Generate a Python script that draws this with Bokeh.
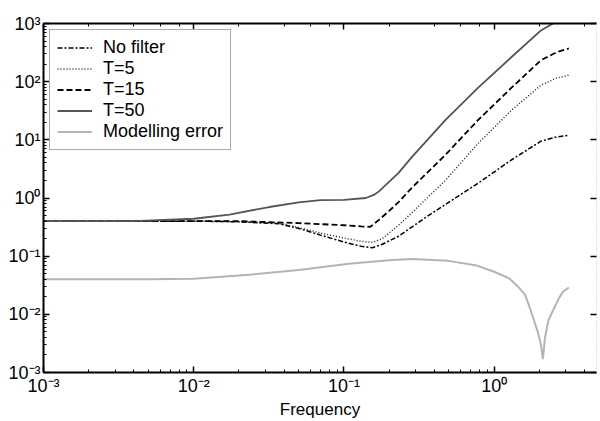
from bokeh.plotting import figure
from bokeh.models import LogAxis, CustomJSTickFormatter, Range1d, LogTicker
from bokeh.embed import file_html
from bokeh.resources import INLINE

# ---- data ----
f_nofilt = [0.001, 0.005, 0.01, 0.02, 0.037, 0.05, 0.07, 0.1, 0.13, 0.155, 0.18, 0.231, 0.365, 0.783, 1.30, 2.05, 2.6, 3.14]
y_nofilt = [0.40, 0.40, 0.40, 0.39, 0.36, 0.30, 0.23, 0.175, 0.148, 0.14, 0.16, 0.22, 0.50, 1.8, 4.5, 9.5, 11.2, 12.0]

f_t5 = [0.001, 0.005, 0.01, 0.02, 0.037, 0.05, 0.07, 0.1, 0.13, 0.155, 0.18, 0.231, 0.282, 0.365, 0.473, 0.783, 1.30, 2.05, 2.6, 3.14]
y_t5 = [0.40, 0.40, 0.40, 0.39, 0.37, 0.31, 0.25, 0.205, 0.18, 0.172, 0.20, 0.34, 0.55, 1.05, 2.0, 8.7, 32.0, 87.0, 115.0, 129.0]

f_t15 = [0.001, 0.01, 0.02, 0.05, 0.1, 0.13, 0.15, 0.171, 0.2, 0.231, 0.282, 0.473, 0.783, 1.30, 2.05, 2.6, 3.14]
y_t15 = [0.40, 0.40, 0.40, 0.37, 0.34, 0.325, 0.32, 0.42, 0.60, 0.85, 1.48, 5.5, 22.0, 78.0, 234.0, 320.0, 372.0]

f_t50 = [0.001, 0.004, 0.01, 0.0173, 0.0318, 0.05, 0.07, 0.1, 0.14, 0.158, 0.171, 0.231, 0.282, 0.473, 0.783, 1.30, 2.05, 2.54, 3.14]
y_t50 = [0.40, 0.40, 0.44, 0.52, 0.70, 0.84, 0.92, 0.93, 1.0, 1.13, 1.3, 2.7, 5.0, 21.9, 79.0, 263.0, 760.0, 1050.0, 1400.0]

f_err = [0.001, 0.005, 0.01, 0.0235, 0.05, 0.108, 0.2, 0.282, 0.495, 0.75, 1.0, 1.25, 1.44, 1.6, 1.7, 1.81, 1.95, 2.05, 2.11, 2.18, 2.3, 2.46, 2.7, 2.87, 3.14]
y_err = [0.040, 0.040, 0.041, 0.048, 0.058, 0.074, 0.085, 0.089, 0.083, 0.070, 0.054, 0.042, 0.030, 0.022, 0.0146, 0.009, 0.005, 0.003, 0.0017, 0.004, 0.008, 0.0115, 0.019, 0.0245, 0.029]

x_limits = (1e-3, 4.8)
y_limits = (1e-3, 1e3)
x_label = "Frequency"

FONT = "Liberation Sans"

p = figure(width=600, height=421, x_axis_type="log", y_axis_type="log",
           x_range=Range1d(*x_limits), y_range=Range1d(*y_limits),
           output_backend="svg", toolbar_location=None,
           min_border_left=43, min_border_right=1, min_border_top=23, min_border_bottom=48)
p.outline_line_color = None
p.xgrid.visible = False
p.ygrid.visible = False
p.background_fill_color = "white"
p.border_fill_color = "white"

sup_js = """
const sup = {'-':'\\u207b','0':'\\u2070','1':'\\u00b9','2':'\\u00b2','3':'\\u00b3','4':'\\u2074','5':'\\u2075'};
const e = Math.round(Math.log10(tick));
return '10' + String(e).split('').map(c => sup[c]).join('');
"""

for ax in (p.xaxis[0], p.yaxis[0]):
    ax.formatter = CustomJSTickFormatter(code=sup_js)
    ax.axis_line_width = 2
    ax.axis_line_color = "black"
    ax.major_tick_in = 6
    ax.major_tick_out = 0
    ax.minor_tick_in = 3
    ax.minor_tick_out = 0
    ax.major_tick_line_width = 1.5
    ax.minor_tick_line_width = 1
    ax.major_tick_line_color = "black"
    ax.minor_tick_line_color = "black"
    ax.major_label_text_font = FONT
    ax.major_label_text_font_size = "18px"
    ax.major_label_text_color = "black"
    ax.major_label_standoff = 3

p.xaxis.axis_label = x_label
p.xaxis.axis_label_text_font = FONT
p.xaxis.axis_label_text_font_size = "17px"
p.xaxis.axis_label_text_font_style = "normal"
p.xaxis.axis_label_text_color = "black"
p.xaxis.axis_label_standoff = 1

# top axis (ticks only)
top = LogAxis(ticker=LogTicker(), major_label_text_font_size="1px", major_label_text_alpha=0,
              major_label_standoff=0,
              axis_line_width=2, axis_line_color="black",
              major_tick_in=6, major_tick_out=0, minor_tick_in=3, minor_tick_out=0,
              major_tick_line_width=1.5, major_tick_line_color="black", minor_tick_line_color="black")
p.add_layout(top, "above")
# right axis (faint dotted line, major ticks only)
right = LogAxis(ticker=LogTicker(), major_label_text_font_size="1px", major_label_text_alpha=0,
                major_label_standoff=0,
                axis_line_width=1, axis_line_color="#c8c8c8", axis_line_dash="1 2",
                major_tick_in=6, major_tick_out=0, minor_tick_line_color=None,
                major_tick_line_width=1.5, major_tick_line_color="black")
p.add_layout(right, "right")

p.line(f_nofilt, y_nofilt, line_color="black", line_width=1.5, line_dash="5 2 2 2", legend_label="No filter")
p.line(f_t5, y_t5, line_color="#222222", line_width=1.5, line_dash="1 2", legend_label="T=5")
p.line(f_t15, y_t15, line_color="black", line_width=1.8, line_dash="6 3", legend_label="T=15")
p.line(f_t50, y_t50, line_color="#555555", line_width=1.8, legend_label="T=50")
p.line(f_err, y_err, line_color="#b4b4b4", line_width=2, legend_label="Modelling error")

lg = p.legend[0]
lg.location = "top_left"
lg.margin = 6
lg.padding = 7
lg.spacing = -1
lg.glyph_width = 35
lg.glyph_height = 19
lg.label_height = 19
lg.label_standoff = 11
lg.label_text_font = FONT
lg.label_text_font_size = "18px"
lg.label_text_color = "black"
lg.border_line_color = "#555555"
lg.border_line_width = 1.5
lg.background_fill_alpha = 1

open("out.html", "w").write(file_html(p, INLINE))
